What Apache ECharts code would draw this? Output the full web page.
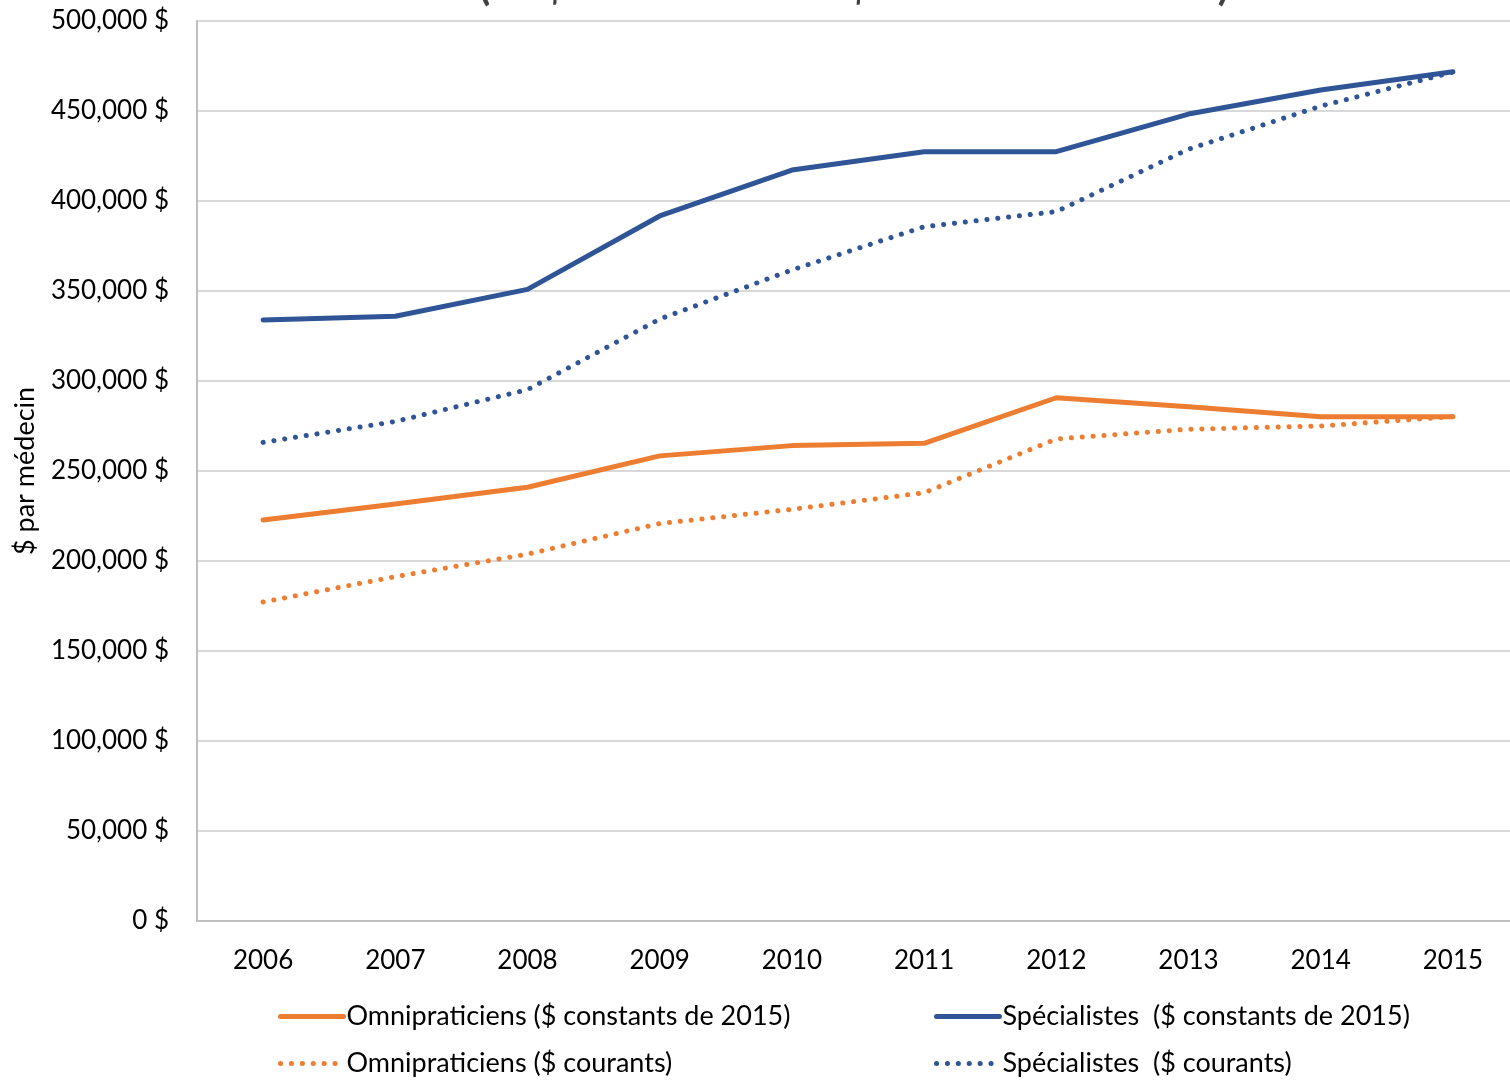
<!DOCTYPE html>
<html>
<head>
<meta charset="utf-8">
<title>Revenu moyen par médecin</title>
<script src="https://cdn.jsdelivr.net/npm/echarts@6/dist/echarts.min.js"></script>
<style>
  html, body { margin: 0; padding: 0; background: #ffffff; }
  #chart { width: 1510px; height: 1081px; }
</style>
</head>
<body>
<div id="chart"></div>
<script>
// Années
const years = ['2006', '2007', '2008', '2009', '2010', '2011', '2012', '2013', '2014', '2015'];

// Paiements moyens par médecin ($)
const omniConstants = [222800, 231700, 241000, 258400, 264100, 265400, 290700, 285700, 280200, 280200];
const omniCourants = [177200, 191300, 203800, 220800, 228700, 237900, 267800, 273200, 275000, 280200];
const specConstants = [333900, 336000, 350900, 391700, 417200, 427400, 427400, 448300, 461700, 471800];
const specCourants = [265900, 277500, 295200, 334400, 361700, 385700, 394100, 428800, 452700, 471600];

// Libellés de la légende
const seriesNames = [
  'Omnipraticiens ($ constants de 2015)',
  'Omnipraticiens ($ courants)',
  'Spécialistes  ($ constants de 2015)',
  'Spécialistes  ($ courants)'
];

const ORANGE = '#ED7D31';
const BLUE = '#2F5597';
const FONT = 'Lato, "Noto Sans", sans-serif';

function money(v) {
  return v.toLocaleString('en-US') + ' $';
}

// Pointillé rond : tiret quasi nul + extrémités arrondies
const dotted = [0.1, 10.8];

function lineSeries(name, data, color, dash) {
  return {
    name: name,
    type: 'line',
    data: data,
    symbol: 'none',
    smooth: false,
    lineStyle: { color: color, width: 5, type: dash ? dotted : 'solid', cap: 'round', join: 'round' },
    itemStyle: { color: color }
  };
}

function legendBlock(names, left) {
  return {
    data: names,
    orient: 'vertical',
    left: left,
    top: 1003,
    itemWidth: 63,
    itemHeight: 6,
    itemGap: 20,
    padding: 0,
    itemStyle: { color: 'transparent', borderWidth: 0 },
    lineStyle: { width: 5, cap: 'round' },
    textStyle: { fontFamily: FONT, fontSize: 27, color: '#000000', padding: [0, 0, 0, -2] }
  };
}

const chart = echarts.init(document.getElementById('chart'), null, { renderer: 'canvas' });

chart.setOption({
  animation: false,
  backgroundColor: '#ffffff',
  textStyle: { fontFamily: FONT },
  title: {
    text: '(en $ courants et en $ constants de 2015)',
    left: 854,
    textAlign: 'center',
    top: -34,
    padding: 0,
    textStyle: { fontFamily: FONT, fontSize: 41, fontWeight: 'bold', color: '#404040' }
  },
  grid: { left: 197, width: 1322, top: 21, bottom: 160, containLabel: false, outerBoundsMode: 'none' },
  legend: [
    legendBlock([seriesNames[0], seriesNames[1]], 278),
    legendBlock([seriesNames[2], seriesNames[3]], 934)
  ],
  xAxis: {
    type: 'category',
    data: years,
    boundaryGap: true,
    axisLine: { lineStyle: { color: '#BFBFBF', width: 2 } },
    axisTick: { show: false },
    axisLabel: { fontFamily: FONT, fontSize: 26, color: '#000000', margin: 27 }
  },
  yAxis: {
    type: 'value',
    min: 0,
    max: 500000,
    interval: 50000,
    name: '$ par médecin',
    nameLocation: 'middle',
    nameGap: 158,
    nameRotate: 90,
    nameTextStyle: { fontFamily: FONT, fontSize: 27, color: '#000000' },
    axisLine: { show: true, lineStyle: { color: '#BFBFBF', width: 2 } },
    axisTick: { show: false },
    splitLine: { lineStyle: { color: '#D9D9D9', width: 2 } },
    axisLabel: { fontFamily: FONT, fontSize: 26, color: '#000000', margin: 28, formatter: money }
  },
  series: [
    lineSeries(seriesNames[0], omniConstants, ORANGE, false),
    lineSeries(seriesNames[1], omniCourants, ORANGE, true),
    lineSeries(seriesNames[2], specConstants, BLUE, false),
    lineSeries(seriesNames[3], specCourants, BLUE, true)
  ]
});
</script>
</body>
</html>
